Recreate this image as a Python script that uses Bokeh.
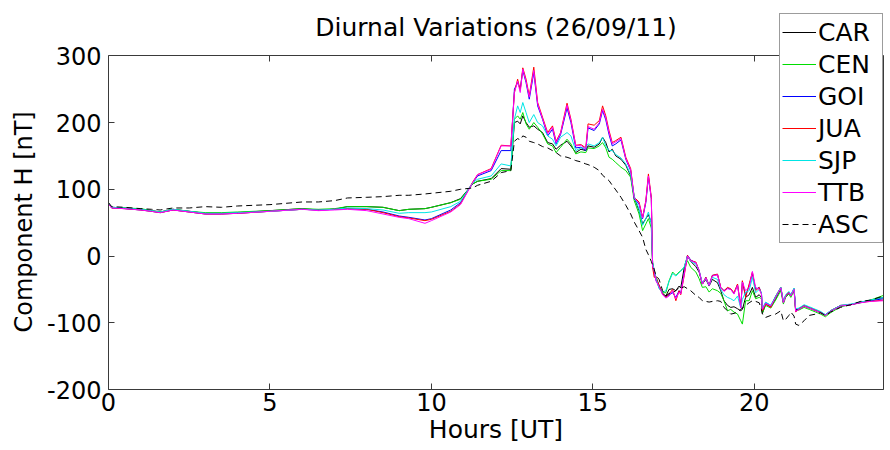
from bokeh.plotting import figure
from bokeh.models import (Range1d, LinearAxis, Legend, LegendItem, FixedTicker,
                          ColumnDataSource, Label, Title)
from bokeh.embed import file_html
from bokeh.resources import INLINE

title_text = "Diurnal Variations (26/09/11)"
x_label = "Hours [UT]"
y_label = "Component H [nT]"
x_ticks = [0, 5, 10, 15, 20]
y_ticks = [-200, -100, 0, 100, 200, 300]
y_tick_labels = {-200: "-200", -100: "-100", 0: "0", 100: "100", 200: "200", 300: "300"}
stations = ["CAR", "CEN", "GOI", "JUA", "SJP", "TTB", "ASC"]

hours = [0.0, 0.1, 0.5, 1.0, 1.33, 1.6, 2.0, 2.5, 3.0, 3.5, 4.0, 5.0, 6.0, 6.5, 7.0, 7.4, 8.0, 8.5, 9.0, 9.3,
         9.8, 10.0, 10.6, 10.9, 11.28, 11.43, 11.85, 12.16, 12.46, 12.57, 12.67, 12.75, 12.83, 12.93, 13.03, 13.17,
         13.29, 13.44, 13.6, 13.75, 13.86, 14.0, 14.2, 14.32, 14.47, 14.63, 14.78, 14.85, 15.04, 15.2, 15.3, 15.4,
         15.5, 15.6, 15.71, 15.87, 16.02, 16.17, 16.28, 16.43, 16.54, 16.64, 16.72, 16.81, 16.85, 16.9, 16.95,
         17.05, 17.16, 17.26, 17.36, 17.47, 17.57, 17.67, 17.72, 17.83, 17.93, 18.03, 18.19, 18.29, 18.39, 18.5,
         18.6, 18.7, 18.86, 18.96, 19.06, 19.17, 19.27, 19.37, 19.48, 19.58, 19.63, 19.73, 19.84, 19.94, 20.04,
         20.15, 20.22, 20.25, 20.35, 20.51, 20.66, 20.82, 20.9, 20.97, 21.07, 21.13, 21.23, 21.28, 21.38, 21.54,
         21.7, 21.9, 22.05, 22.2, 22.36, 22.67, 22.98, 23.29, 23.6, 24.0]

car = [79, 73, 72, 70, 68, 66, 70, 67, 64, 64, 65, 68, 71, 69, 70, 74, 74, 73, 68, 70,
       71, 73, 80, 86, 108, 112, 116, 131, 130, 200, 202, 198, 210, 200, 193, 195,
       190, 185, 170, 168, 160, 166, 172, 165, 155, 160, 158, 165, 163, 168, 178, 170,
       156, 160, 150, 145, 136, 120, 88, 68, 48, 56, 62, 50, -10, -22, -32,
       -44, -56, -60, -50, -49, -52, -45, -48, -17, 0, -8, -16, -24, -42, -35,
       -45, -35, -40, -52, -67, -74, -77, -76, -79, -82, -80, -62, -58, -47, -62,
       -58, -62, -86, -72, -76, -64, -49, -70, -60, -56, -60, -50, -80, -80, -75,
       -78, -82, -85, -89, -83, -75, -73, -70, -67, -62]
cen = [79, 73, 72, 71, 68, 66, 70, 67, 65, 65, 66, 68, 71, 70, 71, 74, 74, 73, 68, 70,
       71, 73, 80, 85, 108, 112, 115, 128, 128, 205, 210, 205, 215, 198, 190, 200,
       193, 183, 168, 165, 155, 163, 175, 168, 153, 156, 155, 162, 161, 165, 170, 162,
       148, 145, 140, 133, 128, 118, 83, 63, 38, 48, 56, 42, -12, -22, -33,
       -48, -55, -55, -37, -24, -29, -24, -22, -17, -7, -17, -24, -34, -47, -46,
       -54, -49, -52, -56, -67, -82, -80, -84, -87, -97, -102, -67, -67, -52, -64,
       -62, -64, -85, -74, -78, -66, -52, -72, -62, -57, -62, -52, -82, -81, -77,
       -80, -84, -87, -91, -85, -76, -73, -69, -66, -59]
goi = [78, 72, 71, 69, 67, 65, 69, 66, 63, 63, 64, 67, 70, 69, 70, 71, 70, 66, 60, 58,
       54, 56, 69, 80, 110, 120, 128, 158, 158, 250, 260, 250, 278, 260, 235, 275,
       225, 205, 180, 190, 168, 182, 222, 200, 162, 163, 158, 192, 188, 198, 218, 204,
       182, 165, 168, 174, 145, 128, 86, 78, 56, 80, 118, 86, -15, -25, -36,
       -45, -57, -62, -58, -55, -62, -52, -56, -25, 1, -6, -10, -22, -42, -32,
       -44, -29, -28, -47, -52, -48, -50, -56, -43, -77, -38, -60, -44, -26, -50,
       -47, -56, -80, -70, -74, -61, -47, -69, -59, -54, -59, -49, -82, -79, -74,
       -77, -81, -84, -88, -82, -74, -73, -69, -67, -64]
jua = [78, 72, 71, 69, 67, 65, 69, 66, 63, 63, 64, 67, 70, 69, 70, 71, 70, 65, 59, 57,
       53, 55, 67, 78, 111, 122, 131, 166, 165, 245, 265, 248, 282, 265, 240, 283,
       230, 208, 185, 195, 172, 185, 229, 205, 166, 167, 162, 198, 196, 203, 225, 210,
       188, 170, 173, 178, 148, 131, 88, 81, 58, 83, 123, 88, -17, -32, -30,
       -44, -57, -62, -57, -50, -67, -52, -58, -29, 1, -7, -9, -22, -42, -32,
       -44, -29, -27, -47, -52, -47, -49, -55, -42, -77, -37, -62, -42, -24, -52,
       -47, -57, -82, -72, -77, -60, -47, -69, -59, -54, -59, -49, -84, -79, -74,
       -77, -81, -84, -89, -82, -74, -73, -69, -68, -66]
sjp = [79, 73, 72, 70, 68, 66, 70, 67, 64, 64, 65, 67, 70, 69, 70, 72, 71, 69, 64, 65,
       65, 66, 74, 82, 110, 115, 120, 138, 135, 205, 225, 215, 230, 215, 200, 212,
       200, 195, 180, 175, 165, 178, 185, 180, 158, 162, 162, 168, 165, 170, 178, 165,
       158, 158, 152, 147, 138, 122, 90, 70, 46, 56, 66, 48, -10, -22, -32,
       -49, -54, -52, -38, -26, -30, -25, -23, -16, 0, -8, -12, -22, -40, -34,
       -44, -32, -35, -50, -58, -62, -64, -67, -60, -78, -65, -54, -52, -32, -55,
       -50, -55, -78, -69, -74, -60, -47, -68, -58, -53, -58, -48, -79, -78, -73,
       -76, -80, -83, -88, -82, -74, -72, -69, -66, -62]
ttb = [78, 72, 71, 69, 67, 65, 69, 66, 63, 63, 64, 67, 70, 68, 69, 70, 68, 63, 58, 56,
       49, 53, 66, 77, 110, 122, 130, 165, 165, 245, 262, 245, 280, 262, 238, 278,
       228, 206, 183, 193, 170, 184, 226, 203, 165, 166, 160, 194, 190, 200, 220, 207,
       185, 168, 171, 176, 146, 129, 87, 79, 57, 82, 120, 86, -15, -22, -37,
       -46, -58, -63, -60, -52, -64, -54, -57, -27, 0, -7, -10, -22, -42, -33,
       -44, -30, -28, -48, -53, -49, -50, -57, -44, -78, -39, -52, -47, -23, -47,
       -50, -57, -80, -71, -75, -62, -48, -70, -60, -55, -60, -50, -83, -80, -75,
       -78, -82, -85, -89, -83, -75, -73, -70, -68, -67]
asc = [80, 74, 73, 71, 70, 69, 72, 72, 74, 73, 75, 77, 81, 81, 83, 87, 88, 89, 91, 91,
       93, 94, 97, 100, 102, 106, 112, 125, 128, 172, 176, 174, 180, 178, 172, 170,
       168, 164, 162, 158, 155, 150, 148, 146, 143, 141, 138, 137, 133, 128, 121, 117,
       113, 106, 99, 88, 76, 63, 51, 38, 28, 10, 2, -8, -14, -20, -29,
       -35, -52, -60, -56, -55, -52, -47, -48, -46, -49, -52, -59, -62, -67, -68,
       -69, -68, -67, -68, -77, -82, -87, -86, -84, -80, -78, -74, -70, -67, -68,
       -70, -80, -87, -92, -89, -87, -82, -97, -95, -89, -84, -90, -102, -104, -97,
       -89, -87, -85, -89, -84, -77, -73, -68, -66, -60]

colors = ["#000000", "#00dd00", "#0000ff", "#ff0000", "#00e5e5", "#ff00ff", "#000000"]
dashes = ["solid", "solid", "solid", "solid", "solid", "solid", "6 4"]

FONT = "DejaVu Sans"
AX_COLOR = "#3a3a3a"
Y_MIN, Y_MAX = -200, 300
Y_TOP = 363.4   # head-room above the axes box, where the legend sits

p = figure(width=890, height=450, output_backend="svg", toolbar_location=None,
           x_range=Range1d(0, 24), y_range=Range1d(Y_MIN, Y_TOP),
           min_border_left=107, min_border_top=13, min_border_bottom=61, min_border_right=7)
p.background_fill_color = "white"
p.border_fill_color = "white"
p.outline_line_color = None
p.xgrid.visible = False
p.ygrid.visible = False


def style_axis(ax, ticks, show_labels=True):
    ax.ticker = FixedTicker(ticks=ticks)
    ax.major_tick_in = 6
    ax.major_tick_out = 0
    ax.minor_tick_line_color = None
    ax.axis_line_color = AX_COLOR
    ax.major_tick_line_color = AX_COLOR
    ax.major_label_text_font = FONT
    if show_labels:
        ax.major_label_text_font_size = "24px"
        ax.major_label_text_color = "black"
    else:
        ax.major_label_text_font_size = "1px"
        ax.major_label_text_color = None
        ax.major_label_standoff = 0


xa = p.xaxis[0]
ya = p.yaxis[0]
style_axis(xa, x_ticks)
style_axis(ya, y_ticks)
xa.bounds = (0, 24)
ya.bounds = (Y_MIN, Y_MAX)
ya.major_label_overrides = y_tick_labels
xa.axis_label = x_label
xa.axis_label_text_font = FONT
xa.axis_label_text_font_size = "25px"
xa.axis_label_text_font_style = "normal"
xa.axis_label_text_color = "black"
xa.major_label_standoff = 3
xa.axis_label_standoff = 1
ya.major_label_standoff = 7

# y-axis label, centred on the -200..300 box (not on the head-room)
ylab = Title(text=y_label, align="left", offset=57, standoff=14,
             text_font=FONT, text_font_size="24px", text_font_style="normal", text_color="black")
p.add_layout(ylab, "left")

top_ax = LinearAxis(fixed_location=Y_MAX, bounds=(0, 24))
style_axis(top_ax, x_ticks, show_labels=False)
right_ax = LinearAxis(bounds=(Y_MIN, Y_MAX))
style_axis(right_ax, y_ticks, show_labels=False)
p.add_layout(top_ax, "above")
p.add_layout(right_ax, "right")

title = Label(x=12, y=342.4, text=title_text, text_align="center", text_baseline="alphabetic",
              text_font=FONT, text_font_size="25px", text_color="black")
p.add_layout(title)

src = ColumnDataSource(dict(hours=hours, CAR=car, CEN=cen, GOI=goi, JUA=jua, SJP=sjp, TTB=ttb, ASC=asc))
items = []
for name, col, dash in zip(stations, colors, dashes):
    r = p.line("hours", name, source=src, line_color=col, line_width=1, line_dash=dash)
    items.append(LegendItem(label=name, renderers=[r]))

legend = Legend(items=items, location="top_right")
legend.label_text_font = FONT
legend.label_text_font_size = "25px"
legend.label_text_color = "black"
legend.glyph_width = 34
legend.glyph_height = 32
legend.label_height = 32
legend.label_width = 62
legend.label_standoff = 2
legend.spacing = 0
legend.padding = 2
legend.margin = 0
legend.border_line_color = AX_COLOR
legend.border_line_width = 1
legend.background_fill_color = "white"
legend.background_fill_alpha = 1.0
p.add_layout(legend, "center")

open("out.html", "w").write(file_html(p, INLINE))
